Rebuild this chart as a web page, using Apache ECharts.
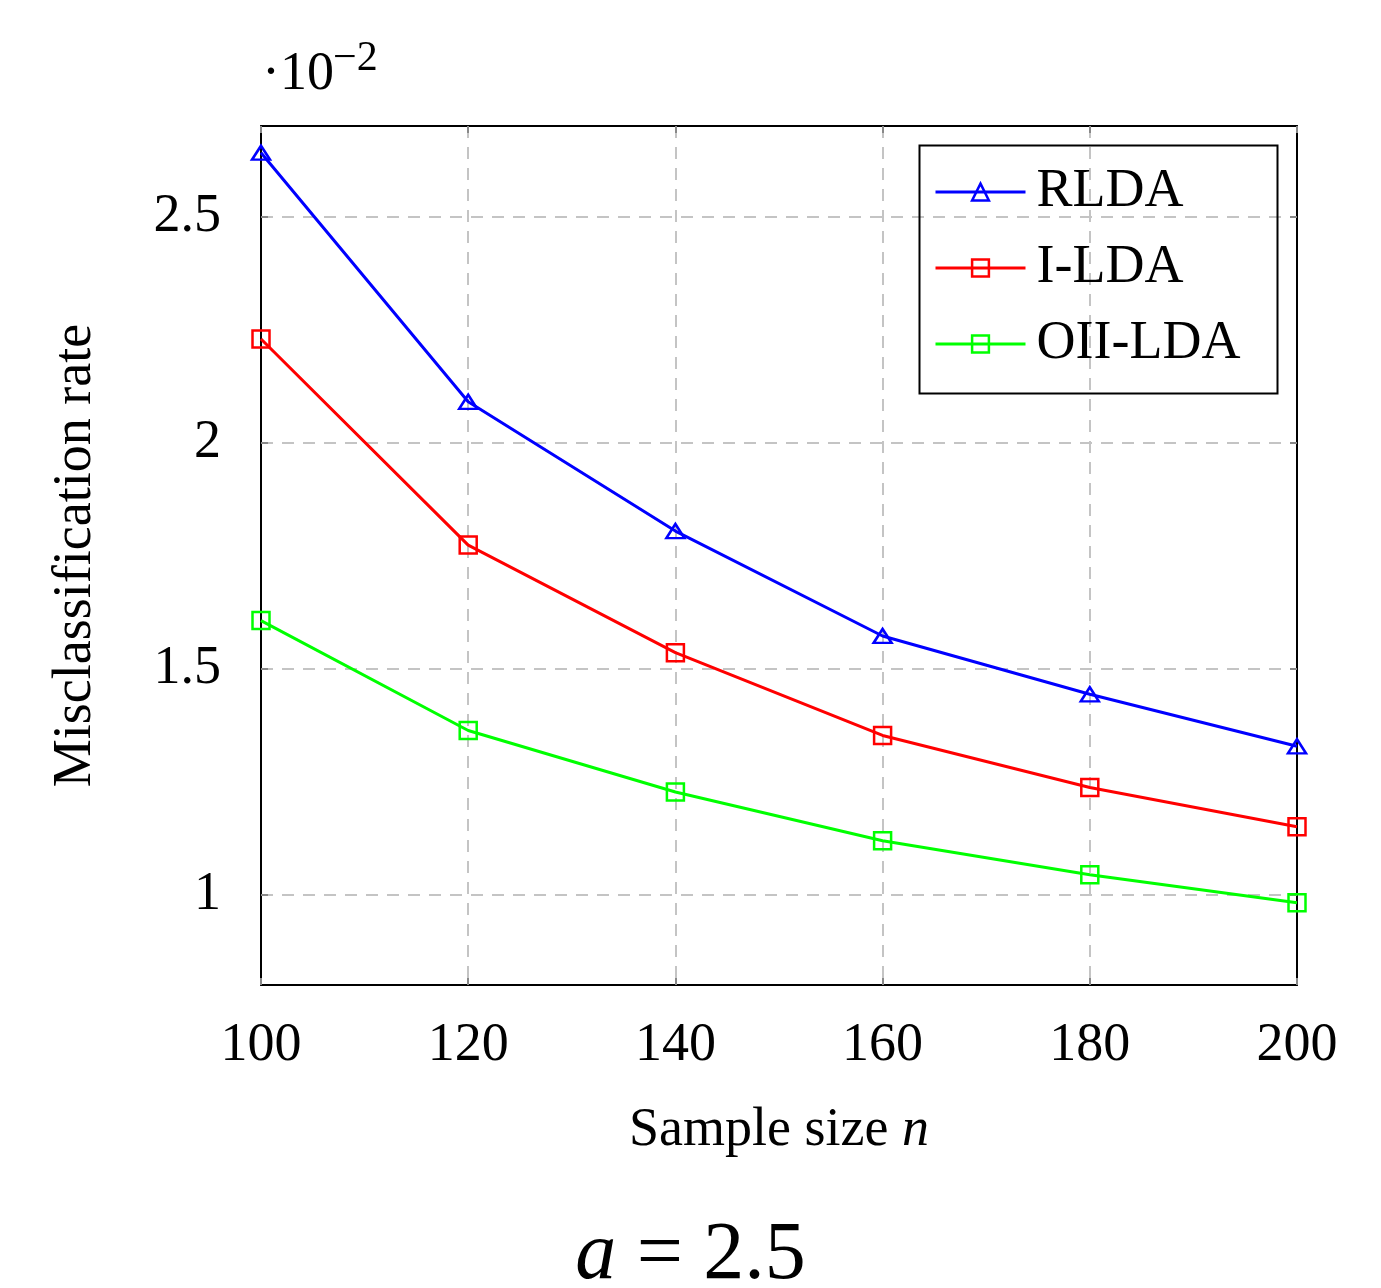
<!DOCTYPE html>
<html>
<head>
<meta charset="utf-8">
<script src="https://cdn.jsdelivr.net/npm/echarts@6/dist/echarts.min.js"></script>
<style>
  html, body { margin: 0; padding: 0; background: #fff; }
  #chart { width: 1381px; height: 1288px; }
</style>
</head>
<body>
<div id="chart"></div>
<script>
// data (misclassification rate, in units of 10^-2)
var sampleSizes = [100, 120, 140, 160, 180, 200];
var rlda = [2.641, 2.090, 1.804, 1.572, 1.443, 1.328];
var ilda = [2.229, 1.773, 1.535, 1.352, 1.237, 1.150];
var oiilda = [1.606, 1.363, 1.227, 1.119, 1.044, 0.982];
var yTicks = [1, 1.5, 2, 2.5];
var seriesNames = ['RLDA', 'I-LDA', 'OII-LDA'];

var FONT = '"Liberation Serif", "DejaVu Serif", serif';
var GRID_LINE = { color: '#c4c4c4', width: 2, type: [12, 9] };
var FRAME = { show: true, onZero: false, lineStyle: { color: '#000', width: 2 } };
var TICK = { show: true, inside: true, length: 7, lineStyle: { color: '#888', width: 2 } };

function pairs(ys) {
    return sampleSizes.map(function (x, i) { return [x, ys[i]]; });
}

function makeSeries(name, ys, color, symbol, size) {
    return {
        name: name,
        type: 'line',
        data: pairs(ys),
        symbol: symbol,
        symbolSize: size,
        showAllSymbol: true,
        clip: false,
        lineStyle: { color: color, width: 3 },
        itemStyle: { color: 'rgba(255,255,255,0)', borderColor: color, borderWidth: 2.5 },
        emphasis: { disabled: true },
        z: 3
    };
}

var chart = echarts.init(document.getElementById('chart'));
var option = {
    animation: false,
    backgroundColor: '#fff',
    grid: { left: 261, right: 84, top: 126, bottom: 303 },
    legend: {
        left: 929, top: 160,
        orient: 'vertical',
        itemWidth: 90, itemHeight: 21,
        itemGap: 22,
        data: seriesNames,
        lineStyle: { width: 3 },
        itemStyle: { borderWidth: 2.5 },
        textStyle: { fontFamily: FONT, fontSize: 54, color: '#000', lineHeight: 54, padding: [0, 0, 0, 6] }
    },
    xAxis: [{
        type: 'value',
        min: 100, max: 200, interval: 20,
        name: '{r|Sample size }{i|n}',
        nameLocation: 'middle',
        nameGap: 119,
        nameTextStyle: {
            rich: {
                r: { fontFamily: FONT, fontSize: 54, color: '#000' },
                i: { fontFamily: FONT, fontSize: 54, fontStyle: 'italic', color: '#000' }
            }
        },
        axisLine: FRAME,
        axisTick: TICK,
        axisLabel: { fontFamily: FONT, fontSize: 54, color: '#000', margin: 34 },
        splitLine: { show: true, lineStyle: GRID_LINE }
    }, {
        type: 'value', position: 'top',
        min: 100, max: 200, interval: 20,
        axisLine: FRAME, axisTick: TICK,
        axisLabel: { show: false }, splitLine: { show: false }
    }],
    yAxis: [{
        type: 'value',
        min: 0.8, max: 2.7,
        name: 'Misclassification rate',
        nameLocation: 'middle',
        nameGap: 158,
        nameTextStyle: { fontFamily: FONT, fontSize: 54, color: '#000' },
        axisLine: FRAME,
        axisTick: Object.assign({ customValues: yTicks }, TICK),
        axisLabel: { fontFamily: FONT, fontSize: 54, color: '#000', margin: 40, customValues: yTicks },
        splitLine: { show: true, lineStyle: GRID_LINE }
    }, {
        type: 'value', position: 'right',
        min: 0.8, max: 2.7,
        axisLine: FRAME,
        axisTick: Object.assign({ customValues: yTicks }, TICK),
        axisLabel: { show: false, customValues: yTicks }, splitLine: { show: false }
    }],
    series: [
        makeSeries('RLDA', rlda, '#0000ff', 'triangle', [18, 14]),
        makeSeries('I-LDA', ilda, '#ff0000', 'rect', 17),
        makeSeries('OII-LDA', oiilda, '#00ff00', 'rect', 17)
    ],
    graphic: [
        {
            type: 'rect', left: 917, top: 143, z: 10, silent: true,
            shape: { width: 358, height: 248 },
            style: { fill: 'none', stroke: '#000', lineWidth: 2 }
        },
        {
            type: 'text', left: 262, top: 48, z: 10,
            style: { text: '·10', font: '54px ' + FONT, fill: '#000' }
        },
        {
            type: 'text', left: 333, top: 38, z: 10,
            style: { text: '−2', font: '42px ' + FONT, fill: '#000' }
        },
        {
            type: 'text', left: 'center', top: 1215, z: 10,
            style: {
                text: '{i|a}{r| = 2.5}',
                rich: {
                    i: { fontFamily: FONT, fontSize: 82, fontStyle: 'italic', fill: '#000' },
                    r: { fontFamily: FONT, fontSize: 82, fill: '#000' }
                }
            }
        }
    ]
};
chart.setOption(option);
</script>
</body>
</html>
